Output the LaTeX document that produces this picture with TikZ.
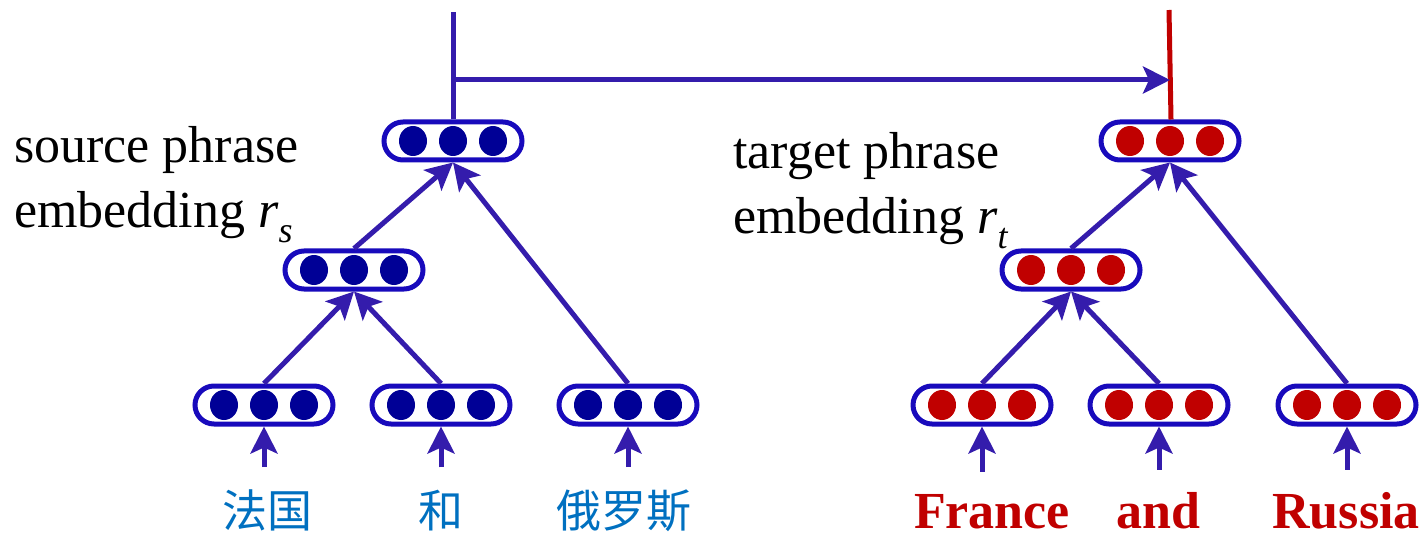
\documentclass[tikz,border=0pt]{standalone}
\usepackage{fontspec}
\setmainfont{Liberation Serif}
\newfontfamily\cjk{Noto Sans CJK SC}
\usetikzlibrary{arrows.meta,calc}
\definecolor{boxblue}{RGB}{24,10,188}
\definecolor{arrblue}{RGB}{52,28,172}
\definecolor{dotblue}{RGB}{0,0,150}
\definecolor{dotred}{RGB}{192,0,0}
\definecolor{cjkblue}{RGB}{0,112,192}
\tikzset{
  embbox/.style={draw=boxblue, line width=5pt, rectangle, rounded corners=19pt,
    minimum width=138pt, minimum height=38pt, inner sep=0pt},
  arr/.style={draw=arrblue, line width=5pt, -{Stealth[length=27pt,width=27pt,inset=6pt]}},
  plainline/.style={draw=arrblue, line width=5pt},
  redline/.style={draw=dotred, line width=5pt},
  label/.style={align=left, anchor=base west, inner sep=0pt, font=\fontsize{52}{65}\selectfont},
  srcword/.style={text=cjkblue, inner sep=0pt, anchor=base, font=\cjk\fontsize{45}{45}\selectfont},
  tgtword/.style={text=dotred, inner sep=0pt, anchor=base, font=\bfseries\fontsize{52}{52}\selectfont}
}
\newcommand{\embnode}[4]{%
  \node[embbox] (#1) at (#2,#3) {};
  \fill[#4] (#2-40,#3) ellipse [x radius=14pt, y radius=15pt];
  \fill[#4] (#2,#3) ellipse [x radius=14pt, y radius=15pt];
  \fill[#4] (#2+40,#3) ellipse [x radius=14pt, y radius=15pt];
}
\begin{document}
\begin{tikzpicture}[x=1pt,y=-1pt]
\useasboundingbox (0,0) rectangle (1423,537);
% source side
\embnode{stop}{453}{141}{dotblue}
\embnode{smid}{354}{270}{dotblue}
\embnode{sa}{264}{405}{dotblue}
\embnode{sb}{441}{405}{dotblue}
\embnode{sc}{628}{405}{dotblue}
% target side
\embnode{ttop}{1170}{141}{dotred}
\embnode{tmid}{1071}{270}{dotred}
\embnode{ta}{982}{405}{dotred}
\embnode{tb}{1159}{405}{dotred}
\embnode{tc}{1347}{405}{dotred}
% words
\node[srcword] (wa) at (267,527) {法国};
\node[srcword] (wb) at (441,527) {和};
\node[srcword] (wc) at (624,527) {俄罗斯};
\node[tgtword] (xa) at (992,528) {France};
\node[tgtword] (xb) at (1158,528) {and};
\node[tgtword] (xc) at (1346,528) {Russia};
% labels
\node[label] (ls) at (14,228) {source phrase\\embedding \textit{r}\raisebox{-0.28em}{\fontsize{36}{36}\selectfont\textit{s}}};
\node[label] (lt) at (733,234) {target phrase\\embedding \textit{r}\raisebox{-0.28em}{\fontsize{36}{36}\selectfont\textit{t}}};
% input arrows
\foreach \b/\w in {sa/wa,sb/wb,sc/wc,ta/xa,tb/xb,tc/xc}{
  \draw[arr] ($(\b.south |- \w.north)+(0,-22)$) -- (\b.south);
}
% tree arrows
\draw[arr] (sa.north) -- (smid.south);
\draw[arr] (sb.north) -- (smid.south);
\draw[arr] (smid.north) -- (stop.south);
\draw[arr] (sc.north) -- (stop.south);
\draw[arr] (ta.north) -- (tmid.south);
\draw[arr] (tb.north) -- (tmid.south);
\draw[arr] (tmid.north) -- (ttop.south);
\draw[arr] (tc.north) -- (ttop.south);
% top connectors
\coordinate (sup) at (453,12);
\coordinate (tup) at (1169,10);
\coordinate (hs) at (453,80);
\coordinate (he) at (1170,80);
\draw[plainline] (stop.north) -- (sup);
\draw[redline] ([xshift=1pt]ttop.north) -- (tup);
\draw[arr] (hs) -- (he);
\end{tikzpicture}
\end{document}
